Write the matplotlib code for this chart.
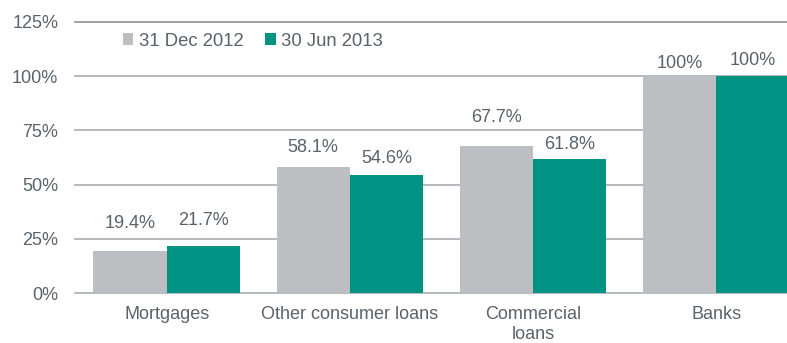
import numpy as np
import matplotlib
matplotlib.use("Agg")
from matplotlib import pyplot as plt

plt.rcParams['font.family'] = ['Liberation Sans', 'DejaVu Sans']

categories = ['Mortgages', 'Other consumer loans', 'Commercial\nloans', 'Banks']
series_names = ['31 Dec 2012', '30 Jun 2013']
dec_2012 = [19.4, 58.1, 67.7, 100.0]
jun_2013 = [21.7, 54.6, 61.8, 100.0]
dec_labels = ['19.4%', '58.1%', '67.7%', '100%']
jun_labels = ['21.7%', '54.6%', '61.8%', '100%']
y_ticks = [0, 25, 50, 75, 100, 125]

# gap between bar top and its label, in pixels
dec_gap = [23, 15, 24, 8]
jun_gap = [21, 12, 10, 11]

GREY = '#BCBEC1'
TEAL = '#009384'
TEXT = '#59636B'
GRID = '#A9AEB1'

fig = plt.figure(figsize=(7.87, 3.43), dpi=100)
ax = fig.add_axes([75 / 787, 50 / 343, 712 / 787, 271 / 343])

x = np.arange(len(categories))
w = 0.4

for yv in y_ticks:
    ax.axhline(yv, color='#8A9297' if yv == 125 else GRID, lw=1.2, zorder=0, clip_on=False)

b1 = ax.bar(x - w / 2, dec_2012, w, color=GREY, label=series_names[0], zorder=2)
b2 = ax.bar(x + w / 2, jun_2013, w, color=TEAL, label=series_names[1], zorder=2)

for bars, labels, gaps in [(b1, dec_labels, dec_gap), (b2, jun_labels, jun_gap)]:
    for rect, lab, g in zip(bars, labels, gaps):
        ax.annotate(lab, (rect.get_x() + rect.get_width() / 2, rect.get_height()),
                    xytext=(0, g * 0.72), textcoords='offset points',
                    ha='center', va='baseline', fontsize=13, color=TEXT)

ax.set_xlim(-0.5, 3.385)
ax.set_ylim(0, 125)
ax.set_yticks(y_ticks)
ax.set_yticklabels(['{}%'.format(v) for v in y_ticks])
ax.set_xticks(x)
ax.set_xticklabels(categories, linespacing=1.2)
ax.tick_params(axis='both', length=0, labelsize=13, labelcolor=TEXT)
ax.tick_params(axis='y', pad=12)
ax.tick_params(axis='x', pad=9.5)
for s in ax.spines.values():
    s.set_visible(False)

ax.legend(loc='center left', bbox_to_anchor=(123 / 787, 1 - 41 / 343),
          bbox_transform=fig.transFigure, ncol=2, frameon=False, fontsize=13.3,
          labelcolor=TEXT, handlelength=0.55, handleheight=0.55,
          handletextpad=0.3, columnspacing=1.2, borderpad=0, borderaxespad=0)

fig.savefig('out.png', dpi=100)
